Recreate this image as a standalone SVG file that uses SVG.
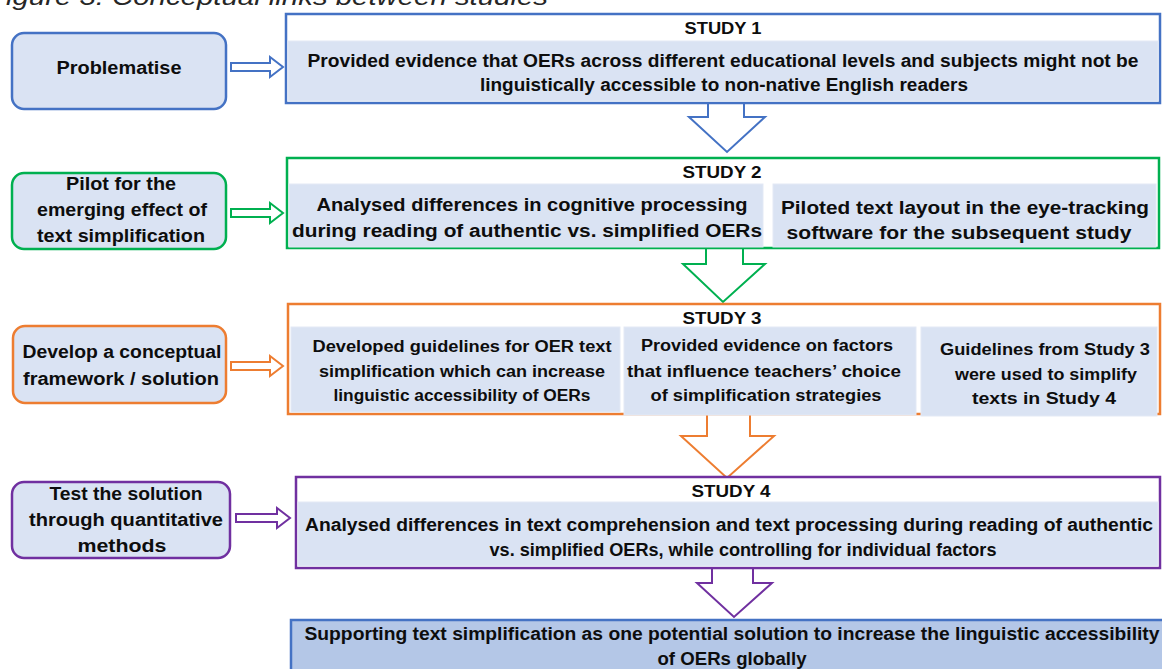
<svg xmlns="http://www.w3.org/2000/svg" width="1162" height="669" viewBox="0 0 1162 669">
<style>
text{font-family:"Liberation Sans",Arial,sans-serif;font-weight:bold;fill:#0d0d0d;text-anchor:middle}
.t18{font-size:18px}
.t16{font-size:16px}
.hd{font-size:17px}
.lb{fill:#dae3f3;stroke-width:2.5}
.band{fill:#dae3f3;stroke:#e3e9f5;stroke-width:1}
.outer{fill:#ffffff;stroke-width:2.5}
.arr{fill:#ffffff;stroke-width:2}
.blue{stroke:#4472c4}.green{stroke:#00b050}.orange{stroke:#ed7d31}.purple{stroke:#7030a0}
.title{font-family:"Liberation Sans",Arial,sans-serif;font-style:italic;font-weight:normal;font-size:24px;fill:#262626;text-anchor:start}
</style>
<rect x="0" y="0" width="1162" height="669" fill="#ffffff"/>
<text class="title" x="-12" y="5" textLength="560" lengthAdjust="spacingAndGlyphs">Figure 3: Conceptual links between studies</text>

<g id="connectors">
  <polygon class="arr blue" points="231,63 270,63 270,57 283,67 270,77 270,71 231,71"/>
  <polygon class="arr green" points="231,209 270,209 270,203 283,213 270,223 270,217 231,217"/>
  <polygon class="arr orange" points="231,362 270,362 270,356 283,366 270,376 270,370 231,370"/>
  <polygon class="arr purple" points="236,514 277,514 277,508 290,518 277,528 277,522 236,522"/>
  <polyline class="arr blue" points="708,103 708,117 689,117 727,152 765,117 744,117 744,103"/>
  <polyline class="arr green" points="706,248 706,264 683,264 723,302 765,264 743,264 743,248"/>
  <polyline class="arr orange" points="707,414 707,436 681,436 727,478 774,436 750,436 750,414"/>
  <polyline class="arr purple" points="712,568 712,583 697,583 734,617 772,583 753,583 753,568"/>
</g>

<g id="problematise">
  <rect class="lb blue" x="12" y="33" width="214" height="76" rx="12"/>
  <text class="t18" x="119" y="74" textLength="125" lengthAdjust="spacingAndGlyphs">Problematise</text>
</g>
<g id="pilot">
  <rect class="lb green" x="12" y="173" width="214" height="76" rx="12"/>
  <text class="t18" x="121" y="190" textLength="110" lengthAdjust="spacingAndGlyphs">Pilot for the</text>
  <text class="t18" x="122" y="216" textLength="170" lengthAdjust="spacingAndGlyphs">emerging effect of</text>
  <text class="t18" x="121" y="242" textLength="168" lengthAdjust="spacingAndGlyphs">text simplification</text>
</g>
<g id="develop">
  <rect class="lb orange" x="13" y="326" width="213" height="77" rx="12"/>
  <text class="t18" x="122" y="358" textLength="199" lengthAdjust="spacingAndGlyphs">Develop a conceptual</text>
  <text class="t18" x="121" y="385" textLength="196" lengthAdjust="spacingAndGlyphs">framework / solution</text>
</g>
<g id="test">
  <rect class="lb purple" x="12" y="482" width="218" height="76" rx="12"/>
  <text class="t18" x="126" y="500" textLength="153" lengthAdjust="spacingAndGlyphs">Test the solution</text>
  <text class="t18" x="126" y="526" textLength="194" lengthAdjust="spacingAndGlyphs">through quantitative</text>
  <text class="t18" x="122" y="552" textLength="89" lengthAdjust="spacingAndGlyphs">methods</text>
</g>

<g id="study1">
  <rect class="outer blue" x="286" y="14" width="874" height="89"/>
  <rect class="band" x="288" y="41" width="870" height="60"/>
  <text class="hd" x="723" y="34" textLength="77" lengthAdjust="spacingAndGlyphs">STUDY 1</text>
  <text class="t18" x="723" y="67" textLength="831" lengthAdjust="spacingAndGlyphs">Provided evidence that OERs across different educational levels and subjects might not be</text>
  <text class="t18" x="724" y="91" textLength="488" lengthAdjust="spacingAndGlyphs">linguistically accessible to non-native English readers</text>
</g>

<g id="study2">
  <rect class="outer green" x="287" y="158" width="872" height="90"/>
  <rect class="band" x="289" y="184" width="474" height="63"/>
  <rect class="band" x="773" y="184" width="383" height="63"/>
  <text class="hd" x="722" y="178" textLength="79" lengthAdjust="spacingAndGlyphs">STUDY 2</text>
  <text class="t18" x="532" y="211" textLength="431" lengthAdjust="spacingAndGlyphs">Analysed differences in cognitive processing</text>
  <text class="t18" x="527" y="237" textLength="470" lengthAdjust="spacingAndGlyphs">during reading of authentic vs. simplified OERs</text>
  <text class="t18" x="965" y="214" textLength="368" lengthAdjust="spacingAndGlyphs">Piloted text layout in the eye-tracking</text>
  <text class="t18" x="959" y="239" textLength="345" lengthAdjust="spacingAndGlyphs">software for the subsequent study</text>
</g>

<g id="study3">
  <rect class="outer orange" x="288" y="304" width="872" height="110"/>
  <rect class="band" x="291" y="327" width="329" height="85"/>
  <rect class="band" x="624" y="327" width="292" height="88"/>
  <rect class="band" x="921" y="327" width="236" height="89"/>
  <text class="hd" x="722" y="324" textLength="79" lengthAdjust="spacingAndGlyphs">STUDY 3</text>
  <text class="t16" x="462" y="352" textLength="299" lengthAdjust="spacingAndGlyphs">Developed guidelines for OER text</text>
  <text class="t16" x="462" y="377" textLength="286" lengthAdjust="spacingAndGlyphs">simplification which can increase</text>
  <text class="t16" x="462" y="401" textLength="257" lengthAdjust="spacingAndGlyphs">linguistic accessibility of OERs</text>
  <text class="t16" x="767" y="351" textLength="252" lengthAdjust="spacingAndGlyphs">Provided evidence on factors</text>
  <text class="t16" x="764" y="377" textLength="274" lengthAdjust="spacingAndGlyphs">that influence teachers’ choice</text>
  <text class="t16" x="766" y="401" textLength="231" lengthAdjust="spacingAndGlyphs">of simplification strategies</text>
  <text class="t16" x="1045" y="355" textLength="210" lengthAdjust="spacingAndGlyphs">Guidelines from Study 3</text>
  <text class="t16" x="1046" y="380" textLength="182" lengthAdjust="spacingAndGlyphs">were used to simplify</text>
  <text class="t16" x="1044" y="404" textLength="144" lengthAdjust="spacingAndGlyphs">texts in Study 4</text>
</g>

<g id="study4">
  <rect class="outer purple" x="296" y="477" width="864" height="91"/>
  <rect class="band" x="298" y="502" width="860" height="64"/>
  <text class="hd" x="731" y="497" textLength="79" lengthAdjust="spacingAndGlyphs">STUDY 4</text>
  <text class="t18" x="729" y="531" textLength="848" lengthAdjust="spacingAndGlyphs">Analysed differences in text comprehension and text processing during reading of authentic</text>
  <text class="t18" x="743" y="556" textLength="507" lengthAdjust="spacingAndGlyphs">vs. simplified OERs, while controlling for individual factors</text>
</g>

<g id="conclusion">
  <rect x="291" y="620" width="875" height="60" fill="#b4c7e7" stroke="#4472c4" stroke-width="2.5"/>
  <text class="t18" x="732" y="640" textLength="855" lengthAdjust="spacingAndGlyphs">Supporting text simplification as one potential solution to increase the linguistic accessibility</text>
  <text class="t18" x="732" y="665" textLength="149" lengthAdjust="spacingAndGlyphs">of OERs globally</text>
</g>
</svg>
